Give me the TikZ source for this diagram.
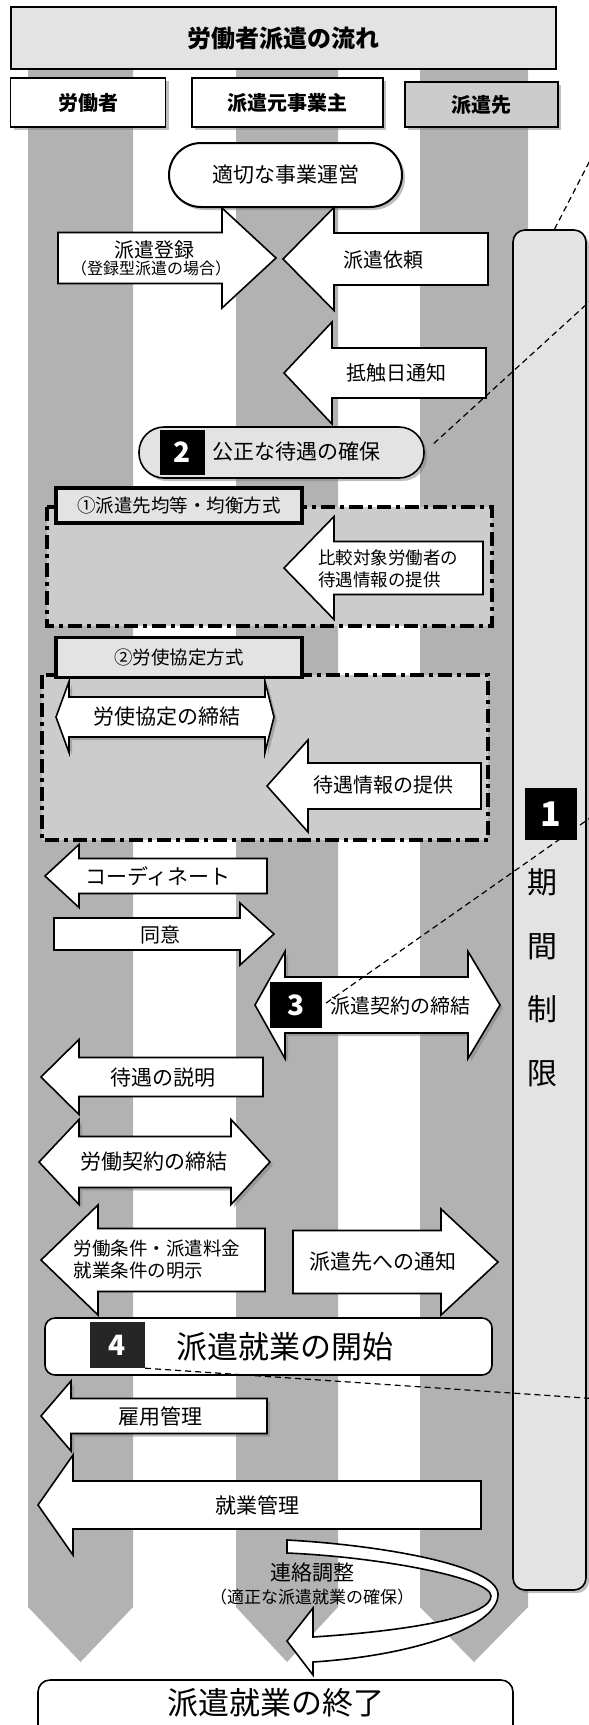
\documentclass[tikz,border=0pt]{standalone}
\usepackage{fontspec}
\setmainfont{Noto Sans CJK JP}
\usetikzlibrary{shadows}

\definecolor{stripegray}{gray}{0.70}
\definecolor{zonegray}{gray}{0.80}
\definecolor{palegray}{gray}{0.89}

\tikzset{
	flow/.style={draw, line width=1.6pt, fill=white, line join=miter},
	castshadow/.style={drop shadow={opacity=0.5, shadow xshift=3pt, shadow yshift=-3pt}},
	txt/.style={inner sep=0pt, align=center, font=\fontsize{#1}{#1}\selectfont},
	headbox/.style={draw, line width=1.2pt, fill=white, font=\fontsize{20}{20}\selectfont\bfseries},
	numbox/.style={fill=black, text=white, inner sep=0pt, font=\fontsize{28}{28}\selectfont\bfseries},
	methodbox/.style={draw, line width=3.5pt, fill=palegray, minimum width=246pt, font=\fontsize{18.5}{18.5}\selectfont},
	zone/.style={draw, fill=zonegray, line width=3.5pt, dash pattern=on 14pt off 5pt on 4pt off 5pt},
	pointer/.style={line width=1.2pt, dash pattern=on 6pt off 4pt},
}

% block arrow: [opts]{tip}{head base}{tail}{y}{half shaft}{half head}
\newcommand{\blockarrow}[7][]{%
	\draw[flow,#1] (#2,#5) -- (#3,#5-#7) -- (#3,#5-#6) -- (#4,#5-#6) -- (#4,#5+#6) -- (#3,#5+#6) -- (#3,#5+#7) -- cycle;}
% double arrow: [opts]{left tip}{left base}{right base}{right tip}{y}{half shaft}{half head}
\newcommand{\twinarrow}[8][]{%
	\draw[flow,#1] (#2,#6) -- (#3,#6-#8) -- (#3,#6-#7) -- (#4,#6-#7) -- (#4,#6-#8) -- (#5,#6) -- (#4,#6+#8) -- (#4,#6+#7) -- (#3,#6+#7) -- (#3,#6+#8) -- cycle;}

\begin{document}
\begin{tikzpicture}[x=1pt, y=-1pt]
	\useasboundingbox (0,0) rectangle (589,1725);
	\clip (0,0) rectangle (589,1725);
	\fill[white] (0,0) rectangle (589,1725);

	% Columns
	\foreach \a/\b in {28/133, 236/338, 420/528} {
		\fill[stripegray] (\a,69) -- (\b,69) -- (\b,1607) -- ({(\a+\b)/2},1662) -- (\a,1607) -- cycle;
	}

	% Headers
	\node[draw, line width=1.2pt, fill=palegray, minimum width=545pt, minimum height=62pt, font=\fontsize{24}{24}\selectfont\bfseries] (title) at (283.5,38) {労働者派遣の流れ};
	\node[headbox, castshadow, minimum width=155pt, minimum height=49pt] (worker) at (88,102.5) {労働者};
	\node[headbox, castshadow, minimum width=191pt, minimum height=49pt] (agency) at (287.5,102.5) {派遣元事業主};
	\node[headbox, castshadow, fill=zonegray, minimum width=153pt, minimum height=45pt] (client) at (481.5,104.5) {派遣先};

	% Methods
	\path[zone] (47,507) rectangle (492,626);
	\path[zone] (42,675) rectangle (488,840);
	\node[methodbox, minimum height=35pt] (method1) at (179,505.5) {①派遣先均等・均衡方式};
	\node[methodbox, minimum height=40pt] (method2) at (179,657.5) {②労使協定方式};

	% Period limit
	\node[draw, line width=1.6pt, rounded corners=12pt, fill=palegray, castshadow, minimum width=73pt, minimum height=1360pt] (limit) at (549.5,910) {};

	% Nodes
	\node[draw, line width=2pt, rounded corners=32pt, fill=white, castshadow, minimum width=233pt, minimum height=64pt, font=\fontsize{21}{21}\selectfont] (ops) at (285.5,175) {適切な事業運営};
	\node[draw, line width=1.6pt, rounded corners=25pt, fill=palegray, castshadow, minimum width=285pt, minimum height=51pt] (fair) at (281.5,452.5) {};
	\node[numbox, minimum width=45pt, minimum height=45pt] (no2) at (182.5,452.5) {2};
	\node[txt=21] (fairtxt) at (296,452) {公正な待遇の確保};

	% Arrows
	\blockarrow{276}{222}{58}{258}{25.5}{50}
	\node[txt=20] (reg) at (154,250) {派遣登録};
	\node[txt=16] (regnote) at (151,268) {（登録型派遣の場合）};
	\blockarrow{283}{334}{488}{259}{26}{51.5}
	\node[txt=20] (req) at (383,260) {派遣依頼};
	\blockarrow{284}{332}{486}{373}{25}{51}
	\node[txt=20] (notice) at (396,373) {抵触日通知};
	\blockarrow{284}{334}{483}{568}{26.5}{51.5}
	\node[inner sep=0pt, align=left, font=\fontsize{17.5}{22}\selectfont] (compare) at (388,569) {比較対象労働者の\\待遇情報の提供};
	\twinarrow[castshadow]{56}{69}{265}{274}{717}{20}{35.5}
	\node[txt=21] (pact) at (167,717) {労使協定の締結};
	\blockarrow{267}{308}{481}{786}{23}{46}
	\node[txt=20] (info) at (383,785) {待遇情報の提供};
	\blockarrow{45}{79}{267}{876}{17.5}{31.5}
	\node[txt=21] (coord) at (158,876) {コーディネート};
	\blockarrow{274}{240}{54}{934}{16}{31}
	\node[txt=20] (agree) at (160,935) {同意};
	\twinarrow[castshadow]{255}{285}{468}{500}{1005}{28}{53.5}
	\node[numbox, minimum width=52pt, minimum height=46pt] (no3) at (296,1005) {3};
	\node[txt=20] (contract) at (400,1006) {派遣契約の締結};
	\blockarrow{41}{79}{263}{1077}{19.5}{37.5}
	\node[txt=21] (explain) at (163,1078) {待遇の説明};
	\twinarrow[castshadow]{39}{79}{231}{270}{1162}{25.5}{42.5}
	\node[txt=21] (labor) at (154,1162) {労働契約の締結};
	\blockarrow{41}{98}{265}{1260}{31.5}{55}
	\node[inner sep=0pt, align=left, font=\fontsize{18.5}{22}\selectfont] (terms) at (157,1259) {労働条件・派遣料金\\就業条件の明示};
	\blockarrow{498}{441}{293}{1262}{31.5}{53}
	\node[txt=21] (tell) at (383,1262) {派遣先への通知};

	% Start
	\node[draw, line width=1.6pt, rounded corners=10pt, fill=white, minimum width=447pt, minimum height=57pt] (start) at (268.5,1346.5) {};
	\node[numbox, fill=black!85, minimum width=55pt, minimum height=46pt] (no4) at (117.5,1345) {4};
	\node[txt=31] (starttxt) at (285,1347) {派遣就業の開始};

	\blockarrow[castshadow]{41}{71}{267}{1416}{17.5}{35}
	\node[txt=21] (employ) at (160,1417) {雇用管理};
	\blockarrow{38}{73}{481}{1505}{24}{50}
	\node[txt=21] (work) at (257,1505) {就業管理};

	% Liaison
	\draw[flow] (287,1540) .. controls (380,1545) and (497,1565) .. (498,1594) .. controls (499,1625) and (420,1655) .. (313,1662) -- (313,1675) -- (287,1641) -- (313,1608) -- (313,1637) .. controls (420,1630) and (491,1615) .. (491,1596) .. controls (491,1578) and (380,1557) .. (287,1553) -- cycle;
	\node[txt=21] (liaison) at (312,1573) {連絡調整};
	\node[txt=17] (liaisonnote) at (312,1597) {（適正な派遣就業の確保）};

	% End
	\node[draw, line width=1.6pt, rounded corners=12pt, fill=white, minimum width=475pt, minimum height=70pt] (finish) at (275.5,1715) {};
	\node[txt=31] (finishtxt) at (276,1703) {派遣就業の終了};

	% Pointers
	\coordinate (out1) at (600,141);
	\coordinate (out2) at (600,292);
	\coordinate (out3) at (600,811);
	\coordinate (out4) at (600,1399);
	\draw[pointer] ([xshift=5pt]limit.north) -- (out1);
	\draw[pointer] ([xshift=9pt, yshift=9pt]fair.east) -- (out2);
	\draw[pointer] ([xshift=4pt, yshift=2pt]no3.east) -- (out3);
	\draw[pointer] (no4.south east) -- (out4);

	\node[numbox, minimum width=52pt, minimum height=52pt, font=\fontsize{34}{34}\selectfont\bfseries] (no1) at (551,814) {1};
	\node[inner sep=0pt, align=center, font=\fontsize{30}{63.5}\selectfont] (limittxt) at (542,978) {期\\間\\制\\限};
\end{tikzpicture}
\end{document}
